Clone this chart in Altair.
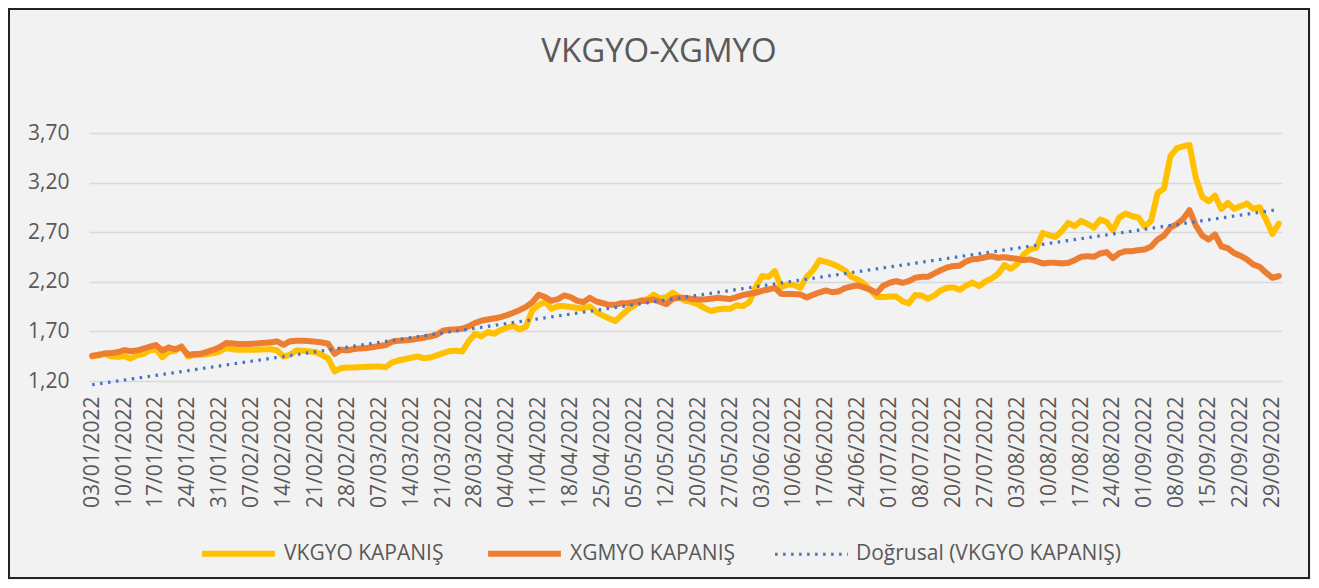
import json
import altair as alt
import pandas as pd

# ---- data ----
holidays = ["2022-05-02", "2022-05-03", "2022-05-04", "2022-05-19",
            "2022-07-11", "2022-07-12", "2022-07-15", "2022-08-30"]
days = [d for d in pd.bdate_range("2022-01-03", "2022-09-30")
        if d.strftime("%Y-%m-%d") not in holidays]
dates = [d.strftime("%d/%m/%Y") for d in days]

vkgyo = [
    1.447, 1.458, 1.474, 1.447, 1.444, 1.450, 1.427, 1.458, 1.471, 1.508,
    1.520, 1.440, 1.495, 1.505, 1.550, 1.447, 1.460, 1.464, 1.471, 1.481,
    1.498, 1.532, 1.520, 1.515, 1.515, 1.515, 1.515, 1.520, 1.520, 1.508,
    1.447, 1.464, 1.508, 1.505, 1.498, 1.491, 1.464, 1.427, 1.296, 1.330,
    1.336, 1.336, 1.340, 1.343, 1.346, 1.346, 1.340, 1.387, 1.407, 1.420,
    1.434, 1.447, 1.431, 1.437, 1.458, 1.481, 1.501, 1.505, 1.498, 1.599,
    1.676, 1.650, 1.693, 1.677, 1.713, 1.737, 1.754, 1.720, 1.747, 1.915,
    1.968, 1.995, 1.928, 1.955, 1.955, 1.945, 1.938, 1.932, 1.952, 1.895,
    1.861, 1.831, 1.804, 1.864, 1.921, 1.962, 2.015, 2.022, 2.069, 2.032,
    2.046, 2.089, 2.046, 2.009, 1.995, 1.972, 1.935, 1.905, 1.921, 1.928,
    1.928, 1.962, 1.955, 1.995, 2.146, 2.257, 2.250, 2.307, 2.146, 2.173,
    2.170, 2.140, 2.250, 2.317, 2.418, 2.401, 2.381, 2.351, 2.314, 2.250,
    2.223, 2.180, 2.116, 2.049, 2.046, 2.052, 2.052, 2.005, 1.982, 2.066,
    2.062, 2.029, 2.062, 2.113, 2.140, 2.143, 2.119, 2.163, 2.193, 2.156,
    2.203, 2.234, 2.280, 2.368, 2.331, 2.378, 2.475, 2.526, 2.542, 2.693,
    2.670, 2.653, 2.713, 2.794, 2.760, 2.814, 2.784, 2.747, 2.828, 2.804,
    2.720, 2.848, 2.888, 2.861, 2.848, 2.754, 2.817, 3.096, 3.140, 3.465,
    3.546, 3.566, 3.579, 3.247, 3.056, 3.012, 3.069, 2.935, 2.995, 2.935,
    2.962, 2.989, 2.935, 2.952, 2.828, 2.683, 2.787,
]

xgmyo = [
    1.454, 1.464, 1.478, 1.481, 1.490, 1.511, 1.500, 1.508, 1.525, 1.545,
    1.562, 1.508, 1.538, 1.520, 1.542, 1.464, 1.471, 1.474, 1.495, 1.515,
    1.542, 1.582, 1.579, 1.572, 1.572, 1.575, 1.579, 1.585, 1.589, 1.599,
    1.565, 1.600, 1.606, 1.606, 1.602, 1.596, 1.589, 1.575, 1.474, 1.515,
    1.508, 1.522, 1.528, 1.532, 1.542, 1.552, 1.562, 1.596, 1.606, 1.609,
    1.616, 1.626, 1.636, 1.650, 1.666, 1.707, 1.717, 1.720, 1.727, 1.750,
    1.784, 1.808, 1.820, 1.830, 1.844, 1.864, 1.888, 1.915, 1.948, 1.995,
    2.069, 2.046, 2.009, 2.026, 2.062, 2.046, 2.009, 1.995, 2.039, 2.002,
    1.985, 1.968, 1.968, 1.985, 1.985, 1.995, 2.005, 2.009, 2.022, 1.999,
    1.975, 2.029, 2.039, 2.039, 2.026, 2.022, 2.022, 2.029, 2.039, 2.032,
    2.026, 2.046, 2.066, 2.079, 2.089, 2.109, 2.123, 2.140, 2.079, 2.076,
    2.076, 2.072, 2.042, 2.069, 2.093, 2.113, 2.096, 2.103, 2.136, 2.153,
    2.163, 2.143, 2.119, 2.089, 2.160, 2.190, 2.207, 2.190, 2.207, 2.240,
    2.250, 2.250, 2.284, 2.317, 2.344, 2.358, 2.364, 2.405, 2.428, 2.432,
    2.448, 2.458, 2.442, 2.448, 2.438, 2.432, 2.418, 2.425, 2.408, 2.385,
    2.391, 2.391, 2.385, 2.391, 2.418, 2.452, 2.458, 2.452, 2.485, 2.499,
    2.438, 2.489, 2.509, 2.509, 2.519, 2.526, 2.556, 2.626, 2.666, 2.747,
    2.781, 2.834, 2.921, 2.767, 2.666, 2.626, 2.677, 2.556, 2.539, 2.489,
    2.462, 2.425, 2.374, 2.351, 2.291, 2.240, 2.257,
]

S1 = "VKGYO KAPANIŞ"
S2 = "XGMYO KAPANIŞ"
S3 = "Doğrusal (VKGYO KAPANIŞ)"
y_ticks = [1.20, 1.70, 2.20, 2.70, 3.20, 3.70]

n = len(dates)
df = pd.DataFrame({
    "idx": list(range(n)) * 2,
    "date": dates * 2,
    "value": vkgyo + xgmyo,
    "series": [S1] * n + [S2] * n,
})

tick_idx = list(range(0, n, 5))
tick_labels = [dates[i] for i in tick_idx]
label_expr = json.dumps(tick_labels) + "[round(datum.value/5)]"

FONT = "Open Sans"
GREY = "#595959"
W, H = 1193, 248
PAD = {"left": 81, "top": 125, "right": 29, "bottom": 199}

domain = [S1, S2, S3]
legend = alt.Legend(
    title=None, orient="none", legendX=110, legendY=381, direction="horizontal",
    symbolType="stroke", symbolSize=5300, labelFontSize=21, labelFont=FONT,
    labelColor=GREY, columnPadding=32, labelOffset=6, labelLimit=500,
)
color = alt.Color("series:N", scale=alt.Scale(domain=domain, range=["#FFC000", "#ED7D31", "#4472C4"]), legend=legend)
dash = alt.StrokeDash("series:N", scale=alt.Scale(domain=domain, range=[[1, 0], [1, 0], [2.5, 5.5]]), legend=legend)
swidth = alt.StrokeWidth("series:N", scale=alt.Scale(type="ordinal", domain=domain, range=[6, 6, 3.2]), legend=legend)

x_enc = alt.X("idx:Q", scale=alt.Scale(domain=[-0.5, n - 0.5], nice=False, zero=False),
              axis=alt.Axis(title=None, values=tick_idx, labelExpr=label_expr, labelAngle=-90,
                            labelFontSize=21, labelFont=FONT, labelColor=GREY, labelPadding=15,
                            domain=False, ticks=False, grid=False, labelOverlap=False, labelBound=False))
y_enc = alt.Y("value:Q", scale=alt.Scale(domain=[1.2, 3.7], nice=False, zero=False),
              axis=alt.Axis(title=None, values=y_ticks,
                            labelExpr="replace(format(datum.value, '.2f'), '.', ',')",
                            labelFontSize=21, labelFont=FONT, labelColor=GREY, labelPadding=20,
                            domain=False, ticks=False, grid=True, gridColor="#D9D9D9", gridWidth=1.5))

base = alt.Chart(df)

line1 = base.transform_filter(alt.datum.series == S1).mark_line(
    strokeJoin="round", strokeCap="round").encode(x=x_enc, y=y_enc, color=color, strokeDash=dash, strokeWidth=swidth)
line2 = base.transform_filter(alt.datum.series == S2).mark_line(
    strokeJoin="round", strokeCap="round").encode(x=x_enc, y=y_enc, color=color, strokeDash=dash, strokeWidth=swidth)
trend = base.transform_filter(alt.datum.series == S1).transform_regression(
    "idx", "value", method="linear").transform_calculate(series=f"'{S3}'").mark_line(
    clip=False).encode(x=x_enc, y=y_enc, color=color, strokeDash=dash, strokeWidth=swidth)

border = alt.Chart(alt.Data(values=[{"b": 1}])).mark_rect(
    filled=False, stroke="#222222", strokeWidth=2).encode(
    x=alt.value(-80), x2=alt.value(W + PAD["right"] - 2),
    y=alt.value(-124), y2=alt.value(H + PAD["bottom"] - 2))

chart = alt.layer(border, line1, line2, trend).properties(
    width=W, height=H,
    title=alt.TitleParams("VKGYO-XGMYO", fontSize=33, font=FONT, fontWeight="normal",
                          color=GREY, anchor="middle", frame="bounds", offset=-61),
    padding=PAD,
    autosize=alt.AutoSizeParams(type="none"),
    background="#F2F2F2",
).configure_view(stroke=None)

chart.save("out.html", embed_options={"renderer": "svg", "actions": False})
